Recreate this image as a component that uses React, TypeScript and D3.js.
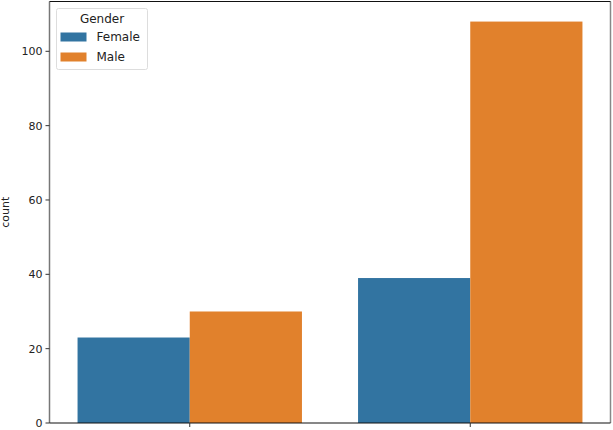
import React from 'react';
import * as d3 from 'd3';

// data
const categories = ['0', '1'];
const genders = ['Female', 'Male'];
const femaleCounts = [23, 39];
const maleCounts = [30, 108];
const yTicks = [0, 20, 40, 60, 80, 100];
const colors = ['#3274a1', '#e1812c'];

const W = 613;
const H = 430;
const margin = { top: 1.5, right: 2.5, bottom: 7, left: 49.5 };

const App = () => {
  const plotW = W - margin.left - margin.right;
  const plotH = H - margin.top - margin.bottom;

  const series = [femaleCounts, maleCounts];
  const maxVal = d3.max(series.flat()) as number;

  const x = d3.scaleLinear().domain([-0.5, categories.length - 0.5]).range([0, plotW]);
  const y = d3.scaleLinear().domain([0, maxVal * 1.05]).range([plotH, 0]);

  const groupW = 0.8;
  const barW = groupW / genders.length;

  const font = 'DejaVu Sans, sans-serif';

  return (
    <svg width={W} height={H} style={{ display: 'block', position: 'absolute', left: 0, top: 0, background: '#fff' }}>
      <g transform={`translate(${margin.left},${margin.top})`}>
        {series.map((vals, gi) =>
          vals.map((v, ci) => {
            const x0 = x(ci - groupW / 2 + gi * barW);
            const x1 = x(ci - groupW / 2 + (gi + 1) * barW);
            return (
              <rect
                key={`${gi}-${ci}`}
                x={x0}
                y={y(v)}
                width={x1 - x0}
                height={plotH - y(v)}
                fill={colors[gi]}
              />
            );
          })
        )}

        {/* spines */}
        <line x1={0} x2={0} y1={0} y2={plotH} stroke="#777" strokeWidth={1.5} />
        <line x1={plotW} x2={plotW} y1={0} y2={plotH} stroke="#888" strokeWidth={1.5} />
        <line x1={0} x2={plotW} y1={0} y2={0} stroke="#111" strokeWidth={1.2} />
        <line x1={0} x2={plotW} y1={plotH} y2={plotH} stroke="#111" strokeWidth={1.2} />

        {/* y axis */}
        {yTicks.map(t => (
          <g key={t} transform={`translate(0,${y(t)})`}>
            <line x1={-4} x2={0} stroke="#333" strokeWidth={1} />
            <text x={-7} dy="0.35em" textAnchor="end" fontSize={11} fontFamily={font} fill="#222">
              {t}
            </text>
          </g>
        ))}
        <text
          transform={`translate(${-41},${plotH / 2}) rotate(-90)`}
          textAnchor="middle"
          fontSize={11}
          fontFamily={font}
          fill="#222"
        >
          count
        </text>

        {/* x ticks (their labels lie below the cropped area) */}
        {categories.map((c, i) => (
          <line key={c} x1={x(i)} x2={x(i)} y1={plotH} y2={plotH + 4} stroke="#333" strokeWidth={1} />
        ))}

        {/* legend */}
        <g transform="translate(7,7)">
          <rect x={0} y={0} width={91} height={61} rx={2} fill="#fff" fillOpacity={0.8} stroke="#ddd" />
          <text x={45.5} y={14} textAnchor="middle" fontSize={12} fontFamily={font} fill="#222">
            Gender
          </text>
          {genders.map((g, i) => (
            <g key={g} transform={`translate(4,${24 + i * 20})`}>
              <rect width={26} height={9} fill={colors[i]} />
              <text x={36} y={4.5} dy="0.35em" fontSize={12} fontFamily={font} fill="#222">
                {g}
              </text>
            </g>
          ))}
        </g>
      </g>
    </svg>
  );
};

export default App;
